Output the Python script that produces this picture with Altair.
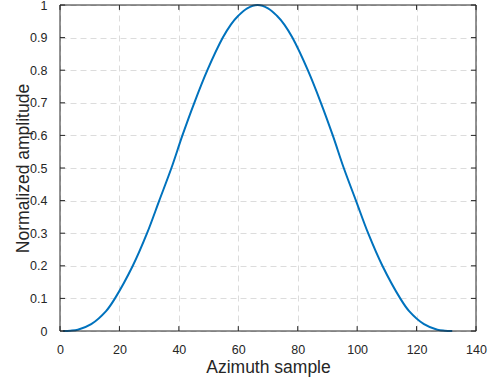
import altair as alt
import pandas as pd

# Curve readings (azimuth sample, normalized amplitude)
xs = [1, 3.5, 6, 10.5, 15.5, 18.5, 24.5, 29.3, 33.4, 37.5, 41.2, 45.2, 49.6,
      54.8, 57.5, 60, 63, 66.5, 70, 73, 75.5, 78.2, 83.4, 87.8, 91.8, 95.5,
      99.6, 103.7, 108.5, 114.5, 117.5, 122.5, 127, 129.5, 132]
ys = [0, 0.001, 0.004, 0.021, 0.061, 0.1, 0.2, 0.3, 0.4, 0.5, 0.6, 0.7, 0.8,
      0.9, 0.94, 0.967, 0.99, 1.0, 0.99, 0.967, 0.94, 0.9, 0.8, 0.7, 0.6,
      0.5, 0.4, 0.3, 0.2, 0.1, 0.061, 0.021, 0.004, 0.001, 0]

x_ticks = [0, 20, 40, 60, 80, 100, 120, 140]
y_ticks = [0, 0.1, 0.2, 0.3, 0.4, 0.5, 0.6, 0.7, 0.8, 0.9, 1]

FONT = "Liberation Sans"
TXT = "#262626"

df = pd.DataFrame({"x": xs, "y": ys})

xscale = alt.Scale(domain=[0, 140], nice=False, zero=False)
yscale = alt.Scale(domain=[0, 1], nice=False, zero=False)
xaxis = alt.Axis(values=x_ticks, title="Azimuth sample", labelFlush=False,
                 labelPadding=12, titlePadding=3)
yaxis = alt.Axis(values=y_ticks, format="~g", title="Normalized amplitude",
                 labelFlush=False, labelPadding=13, titlePadding=-3)

line = alt.Chart(df).mark_line(
    color="#0072BD", strokeWidth=2, interpolate="catmull-rom"
).encode(
    x=alt.X("x:Q", scale=xscale, axis=xaxis),
    y=alt.Y("y:Q", scale=yscale, axis=yaxis),
)

# inward tick marks (MATLAB style)
xt = pd.DataFrame({
    "x": x_ticks * 2,
    "y": [0] * len(x_ticks) + [1] * len(x_ticks),
    "yb": [0.015] * len(x_ticks) + [0.985] * len(x_ticks),
})
yt = pd.DataFrame({
    "y": y_ticks * 2,
    "x": [0] * len(y_ticks) + [140] * len(y_ticks),
    "xb": [1.7] * len(y_ticks) + [138.3] * len(y_ticks),
})

xtick_layer = alt.Chart(xt).mark_rule(color=TXT, strokeWidth=1).encode(
    x=alt.X("x:Q", scale=xscale, axis=xaxis),
    y=alt.Y("y:Q", scale=yscale, axis=yaxis),
    y2="yb:Q",
)
ytick_layer = alt.Chart(yt).mark_rule(color=TXT, strokeWidth=1).encode(
    y=alt.Y("y:Q", scale=yscale, axis=yaxis),
    x=alt.X("x:Q", scale=xscale, axis=xaxis),
    x2="xb:Q",
)

# box drawn above the gridlines
box = pd.DataFrame({"x": [0], "x2": [140], "y": [0], "y2": [1]})
box_layer = alt.Chart(box).mark_rect(filled=False, stroke=TXT, strokeWidth=1).encode(
    x=alt.X("x:Q", scale=xscale, axis=xaxis),
    x2="x2:Q",
    y=alt.Y("y:Q", scale=yscale, axis=yaxis),
    y2="y2:Q",
)

chart = alt.layer(line, xtick_layer, ytick_layer, box_layer).properties(
    width=416, height=326,
    autosize=alt.AutoSizeParams(type="none"),
    padding={"left": 60, "top": 5, "right": 18, "bottom": 52},
    background="white",
).configure_view(
    stroke=None
).configure_axis(
    grid=True, gridColor="#dcdcdc", gridDash=[6, 4], gridWidth=1,
    domain=False, ticks=False,
    labelFont=FONT, labelFontSize=12.5, labelColor=TXT,
    titleFont=FONT, titleFontSize=17.5, titleFontWeight="normal", titleColor=TXT,
)

chart.save("out.html", embed_options={"renderer": "svg", "actions": False})
